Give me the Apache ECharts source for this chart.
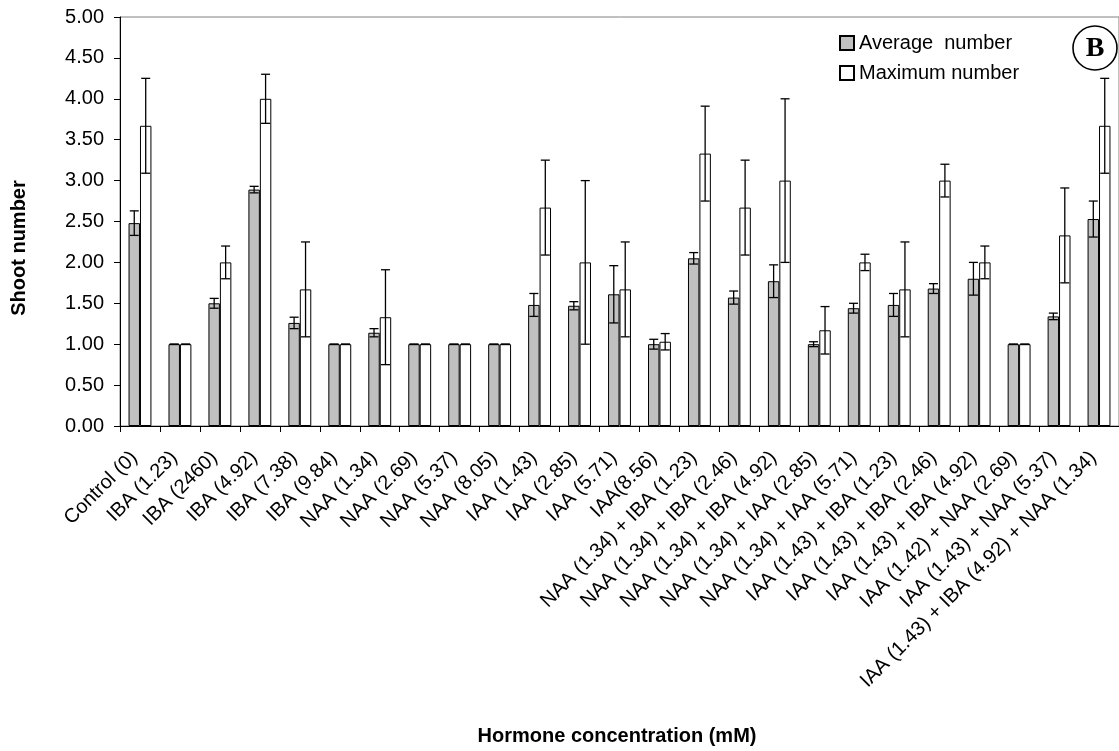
<!DOCTYPE html>
<html>
<head>
<meta charset="utf-8">
<script src="https://cdn.jsdelivr.net/npm/echarts@6/dist/echarts.min.js"></script>
<style>
html,body{margin:0;padding:0;background:#fff;}
#chart{width:1119px;height:751px;}
</style>
</head>
<body>
<div id="chart"></div>
<script>
const categories = [
  'Control (0)', 'IBA (1.23)', 'IBA (2460)', 'IBA (4.92)', 'IBA (7.38)', 'IBA (9.84)',
  'NAA (1.34)', 'NAA (2.69)', 'NAA (5.37)', 'NAA (8.05)',
  'IAA (1.43)', 'IAA (2.85)', 'IAA (5.71)', 'IAA(8.56)',
  'NAA (1.34) + IBA (1.23)', 'NAA (1.34) + IBA (2.46)', 'NAA (1.34) + IBA (4.92)',
  'NAA (1.34) + IAA (2.85)', 'NAA (1.34) + IAA (5.71)',
  'IAA (1.43) + IBA (1.23)', 'IAA (1.43) + IBA (2.46)', 'IAA (1.43) + IBA (4.92)',
  'IAA (1.42) + NAA (2.69)', 'IAA (1.43) + NAA (5.37)',
  'IAA (1.43) + IBA (4.92) + NAA (1.34)'
];
const averageNumber = [2.48, 1.00, 1.50, 2.89, 1.26, 1.00, 1.14, 1.00, 1.00, 1.00, 1.48, 1.47, 1.61, 1.00, 2.05, 1.57, 1.77, 1.00, 1.44, 1.48, 1.68, 1.80, 1.00, 1.34, 2.53];
const averageError = [0.15, 0, 0.06, 0.04, 0.07, 0, 0.05, 0, 0, 0, 0.14, 0.05, 0.35, 0.06, 0.07, 0.08, 0.20, 0.03, 0.06, 0.14, 0.06, 0.20, 0, 0.04, 0.22];
const maximumNumber = [3.67, 1.00, 2.00, 4.00, 1.67, 1.00, 1.33, 1.00, 1.00, 1.00, 2.67, 2.00, 1.67, 1.03, 3.33, 2.67, 3.00, 1.17, 2.00, 1.67, 3.00, 2.00, 1.00, 2.33, 3.67];
const maximumError = [0.58, 0, 0.20, 0.30, 0.58, 0, 0.58, 0, 0, 0, 0.58, 1.00, 0.58, 0.10, 0.58, 0.58, 1.00, 0.29, 0.10, 0.58, 0.20, 0.20, 0, 0.58, 0.58];
const seriesNames = ['Average  number', 'Maximum number'];
const yTicks = [0, 0.5, 1, 1.5, 2, 2.5, 3, 3.5, 4, 4.5, 5];

const FONT = "'Liberation Sans', Arial, sans-serif";
const BAR_FRAC = 0.2865;

function errorRender(side) {
  return function (params, api) {
    const idx = api.value(0);
    const v = api.value(1);
    const e = api.value(2);
    const band = api.size([1, 0])[0];
    const off = side * band * BAR_FRAC / 2;
    const top = api.coord([idx, v + e]);
    const bot = api.coord([idx, v - e]);
    const x = top[0] + off;
    const cap = 4.5;
    const st = { stroke: '#000', lineWidth: 1.3 };
    return {
      type: 'group',
      children: [
        { type: 'line', shape: { x1: x, y1: top[1], x2: x, y2: bot[1] }, style: st },
        { type: 'line', shape: { x1: x - cap, y1: top[1], x2: x + cap, y2: top[1] }, style: st },
        { type: 'line', shape: { x1: x - cap, y1: bot[1], x2: x + cap, y2: bot[1] }, style: st }
      ]
    };
  };
}

const chart = echarts.init(document.getElementById('chart'), null, { renderer: 'canvas' });
chart.setOption({
  animation: false,
  backgroundColor: '#fff',
  textStyle: { fontFamily: FONT },
  grid: {
    left: 120, top: 17, right: -4.5, bottom: 325,
    show: true, borderColor: '#808080', borderWidth: 1, backgroundColor: 'transparent'
  },
  legend: {
    orient: 'vertical',
    left: 799, top: 26,
    data: seriesNames,
    itemWidth: 14, itemHeight: 14, itemGap: 10,
    padding: [7, 32, 4, 40],
    backgroundColor: '#fff',
    icon: 'rect',
    textStyle: { fontSize: 20, color: '#000', fontFamily: FONT }
  },
  xAxis: {
    type: 'category',
    data: categories,
    axisLine: { lineStyle: { color: '#000', width: 1 } },
    axisTick: { show: true, length: 6, lineStyle: { color: '#000' } },
    axisLabel: { interval: 0, rotate: 45, margin: 23, padding: [0, 8, 0, 0], fontSize: 20, color: '#000', fontFamily: FONT }
  },
  yAxis: {
    type: 'value',
    min: 0, max: 5, interval: 0.5,
    splitLine: { show: false },
    axisLine: { show: true, lineStyle: { color: '#000', width: 1 } },
    axisTick: { show: true, length: 6, lineStyle: { color: '#000' } },
    axisLabel: {
      margin: 16, fontSize: 20, color: '#000', fontFamily: FONT,
      formatter: v => (yTicks.indexOf(v) >= 0 ? v.toFixed(2) : '')
    }
  },
  series: [
    {
      name: seriesNames[0], type: 'bar', data: averageNumber,
      barWidth: (BAR_FRAC * 100) + '%', barGap: '0%',
      itemStyle: { color: '#c0c0c0', borderColor: '#000', borderWidth: 1 }
    },
    {
      name: seriesNames[1], type: 'bar', data: maximumNumber,
      barWidth: (BAR_FRAC * 100) + '%', barGap: '0%',
      itemStyle: { color: '#ffffff', borderColor: '#000', borderWidth: 1 }
    },
    {
      type: 'custom', name: 'avgErr', z: 5, silent: true,
      renderItem: errorRender(-1),
      data: averageNumber.map((v, i) => [i, v, averageError[i]])
    },
    {
      type: 'custom', name: 'maxErr', z: 5, silent: true,
      renderItem: errorRender(1),
      data: maximumNumber.map((v, i) => [i, v, maximumError[i]])
    }
  ],
  graphic: [
    {
      type: 'text', x: 19, y: 248, rotation: Math.PI / 2,
      style: { text: 'Shoot number', font: "bold 20px 'Liberation Sans', Arial, sans-serif", fill: '#000', textAlign: 'center', textVerticalAlign: 'middle' }
    },
    {
      type: 'text', x: 617, y: 736,
      style: { text: 'Hormone concentration (mM)', font: "bold 20px 'Liberation Sans', Arial, sans-serif", fill: '#000', textAlign: 'center', textVerticalAlign: 'middle' }
    },
    {
      type: 'circle', shape: { cx: 1095, cy: 48, r: 22 },
      style: { fill: '#fff', stroke: '#000', lineWidth: 1.6 }
    },
    {
      type: 'text', x: 1095, y: 49,
      style: { text: 'B', font: "bold 28px 'Liberation Serif', 'Times New Roman', serif", fill: '#000', textAlign: 'center', textVerticalAlign: 'middle' }
    }
  ]
});
</script>
</body>
</html>
